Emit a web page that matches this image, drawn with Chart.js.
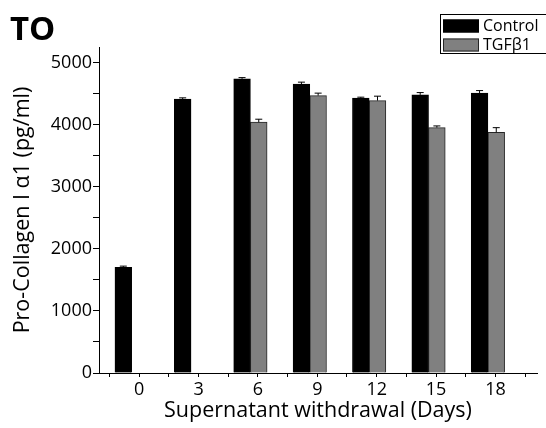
<!DOCTYPE html>
<html>
<head>
<meta charset="utf-8">
<script src="https://cdn.jsdelivr.net/npm/chart.js@4.4.1/dist/chart.umd.min.js"></script>
<style>
  html, body { margin: 0; padding: 0; background: #fff; }
  #wrap { width: 546px; height: 428px; }
</style>
</head>
<body>
<div id="wrap"><canvas id="chart-collagen"></canvas></div>
<script>
// data
const DAYS = [0, 3, 6, 9, 12, 15, 18];
const CONTROL = [1700, 4410, 4737, 4652, 4426, 4479, 4506];
const CONTROL_ERR = [21, 21, 20, 32, 16, 37, 42];
const TGF = [null, null, 4039, 4468, 4387, 3952, 3877];
const TGF_ERR = [null, null, 48, 39, 71, 27, 74];
const Y_TICKS = [0, 500, 1000, 1500, 2000, 2500, 3000, 3500, 4000, 4500, 5000];
const X_TICKS = [-1.5, 0, 1.5, 3, 4.5, 6, 7.5, 9, 10.5, 12, 13.5, 15, 16.5, 18, 19.5];

//options
const FONT = "'Open Sans', 'Noto Sans', sans-serif";
const X_MIN = -2.03;
const X_MAX = 20.1;
const BAR_SHIFT = 0.38; // bars sit a bit left of the day ticks in the original

document.addEventListener('DOMContentLoaded', function () {
  const el = document.querySelector('#chart-collagen');

  // upward error whiskers with a cap
  const errorBars = {
    id: 'errorBars',
    afterDatasetsDraw(chart) {
      const ctx = chart.ctx;
      const y = chart.scales.y;
      chart.data.datasets.forEach((ds, i) => {
        const meta = chart.getDatasetMeta(i);
        meta.data.forEach((bar, j) => {
          const v = ds.data[j].y;
          const e = ds.errors[j];
          if (v == null || e == null) return;
          const y0 = y.getPixelForValue(v);
          const y1 = y.getPixelForValue(v + e);
          ctx.save();
          ctx.strokeStyle = '#000';
          ctx.lineWidth = 1;
          ctx.beginPath();
          ctx.moveTo(bar.x, y0);
          ctx.lineTo(bar.x, y1);
          ctx.moveTo(bar.x - 3.5, y1);
          ctx.lineTo(bar.x + 3.5, y1);
          ctx.stroke();
          ctx.restore();
        });
      });
    },
  };

  // boxed legend in the top right corner + panel letter
  const extras = {
    id: 'extras',
    afterDraw(chart) {
      const ctx = chart.ctx;
      ctx.save();
      ctx.fillStyle = '#000';
      ctx.font = 'bold 33px ' + FONT;
      ctx.textBaseline = 'alphabetic';
      ctx.textAlign = 'left';
      ctx.fillText('TO', 10, 40);

      ctx.strokeStyle = '#000';
      ctx.lineWidth = 1;
      ctx.strokeRect(440.5, 14.5, 106, 39);
      ctx.font = '16px ' + FONT;
      ctx.textBaseline = 'middle';
      const rows = [26, 45];
      chart.data.datasets.forEach((ds, i) => {
        const yy = rows[i];
        ctx.fillStyle = ds.backgroundColor;
        ctx.fillRect(443, yy - 6.5, 36, 13);
        ctx.strokeStyle = ds.borderColor;
        ctx.strokeRect(443.5, yy - 6, 35, 12);
        ctx.fillStyle = '#000';
        ctx.fillText(ds.label, 483, yy);
      });
      ctx.restore();
    },
  };

  new Chart(el, {
    type: 'bar',
    data: {
      datasets: [
        {
          label: 'Control',
          data: DAYS.map((d, i) => ({ x: d, y: CONTROL[i] })),
          errors: CONTROL_ERR,
          backgroundColor: '#000000',
          borderColor: '#000000',
          borderWidth: 1,
          xAxisID: 'xb',
        },
        {
          label: 'TGFβ1',
          data: DAYS.map((d, i) => ({ x: d, y: TGF[i] })),
          errors: TGF_ERR,
          backgroundColor: '#808080',
          borderColor: '#262626',
          borderWidth: 1,
          xAxisID: 'xb',
        },
      ],
    },
    options: {
      responsive: true,
      maintainAspectRatio: false,
      animation: false,
      barThickness: 16.7,
      layout: { padding: { left: 0, right: 9, top: 47, bottom: 0 } },
      scales: {
        xb: {
          type: 'linear',
          display: false,
          offset: false,
          grid: { offset: false },
          min: X_MIN + BAR_SHIFT,
          max: X_MAX + BAR_SHIFT,
        },
        x: {
          type: 'linear',
          position: 'bottom',
          offset: false,
          min: X_MIN,
          max: X_MAX,
          afterBuildTicks: (scale) => {
            scale.ticks = X_TICKS.map((v) => ({ value: v }));
          },
          afterFit: (scale) => {
            scale.height = 55;
          },
          border: { color: '#000', width: 1 },
          grid: { offset: false, drawOnChartArea: false, tickLength: 4, tickColor: '#000' },
          ticks: {
            autoSkip: false,
            maxRotation: 0,
            padding: 2,
            color: '#000',
            font: { family: FONT, size: 18 },
            callback: (v) => (DAYS.includes(v) ? String(v) : ''),
          },
          title: {
            display: true,
            text: 'Supernatant withdrawal (Days)',
            color: '#000',
            font: { family: FONT, size: 21.5 },
            padding: { top: 0, bottom: 4 },
          },
        },
        y: {
          min: 0,
          max: 5250,
          afterBuildTicks: (scale) => {
            scale.ticks = Y_TICKS.map((v) => ({ value: v }));
          },
          afterFit: (scale) => {
            scale.width = 99;
          },
          border: { color: '#000', width: 1 },
          grid: { drawOnChartArea: false, tickLength: 6, tickColor: '#000' },
          ticks: {
            autoSkip: false,
            padding: 1,
            color: '#000',
            font: { family: FONT, size: 18 },
            callback: (v) => (v % 1000 === 0 ? String(v) : ''),
          },
          title: {
            display: true,
            text: 'Pro-Collagen I α1 (pg/ml)',
            color: '#000',
            font: { family: FONT, size: 21.5 },
            padding: { top: 10, bottom: 0 },
          },
        },
      },
      plugins: {
        legend: { display: false },
        tooltip: { enabled: false },
      },
    },
    plugins: [errorBars, extras],
  });
});
</script>
</body>
</html>
